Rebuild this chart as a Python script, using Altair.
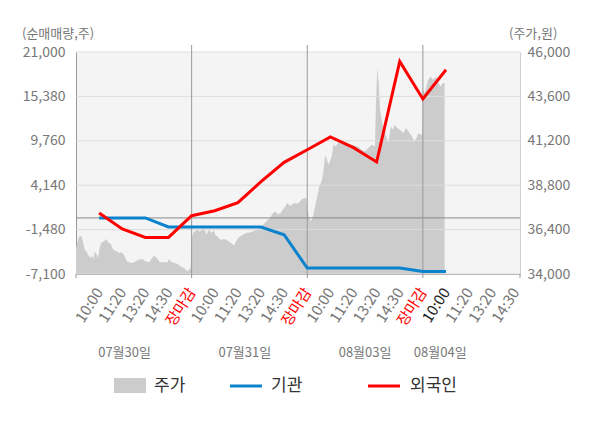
import altair as alt
import pandas as pd

# ---------------- data ----------------
slot_labels = ["10:00", "11:20", "13:20", "14:30", "장마감",
               "10:00", "11:20", "13:20", "14:30", "장마감",
               "10:00", "11:20", "13:20", "14:30", "장마감",
               "10:00", "11:20", "13:20", "14:30"]
dates = ["07월30일", "07월31일", "08월03일", "08월04일"]
date_pos = [2.1, 7.3, 12.5, 15.75]
day_bounds = [5, 10, 15]
axis_ends = [0, 5, 10, 15, 19.2]

left_ticks = [-7100, -1480, 4140, 9760, 15380, 21000]
right_ticks = [34000, 36400, 38800, 41200, 43600, 46000]

line_slots = list(range(1, 17))
foreign = [620, -1400, -2470, -2470, 280, 910, 1930, 4580, 7030, 8630,
           10240, 8890, 7080, 19810, 15050, 18760]
inst = [0, 0, 0, -1150, -1150, -1150, -1150, -1150, -2130, -6340,
        -6340, -6340, -6340, -6340, -6770, -6770]

price_t = [
    0.00, 0.09, 0.17, 0.23, 0.30, 0.38, 0.46, 0.52, 0.58, 0.66, 0.70, 0.75, 0.81, 0.90, 0.95,
    1.02, 1.09, 1.21, 1.31, 1.38, 1.50, 1.61, 1.72, 1.86, 1.96, 2.08, 2.18, 2.29, 2.43, 2.58,
    2.72, 2.87, 3.01, 3.16, 3.26, 3.37, 3.49, 3.63, 3.81, 3.95, 4.02, 4.10, 4.24, 4.38, 4.53,
    4.67, 4.81, 4.89, 4.96,
    5.00, 5.06, 5.13, 5.25, 5.35, 5.45, 5.57, 5.63, 5.71, 5.78, 5.85, 5.97, 6.02, 6.11, 6.21,
    6.28, 6.40, 6.50, 6.60, 6.72, 6.82, 6.89, 6.98, 7.08, 7.22, 7.36, 7.51, 7.65, 7.80, 7.94,
    8.09, 8.23, 8.38, 8.52, 8.62, 8.74, 8.85, 8.95, 9.05, 9.14, 9.24, 9.34, 9.46, 9.57, 9.68,
    9.78, 9.90, 9.96,
    10.00, 10.09, 10.16, 10.24, 10.34, 10.43, 10.52, 10.62, 10.69, 10.77, 10.84, 10.91, 10.98,
    11.06, 11.13, 11.24, 11.34, 11.49, 11.63, 11.78, 11.92, 12.06, 12.21, 12.35, 12.50, 12.64,
    12.79, 12.93, 12.97, 13.03, 13.09, 13.15, 13.22, 13.29, 13.41, 13.51, 13.61, 13.70, 13.79,
    13.89, 14.01, 14.15, 14.27, 14.37, 14.52, 14.62, 14.73, 14.80, 14.91, 14.97,
    15.00, 15.09, 15.23, 15.34, 15.45, 15.57, 15.67, 15.77, 15.86, 15.94,
]
price = [
    35400, 35850, 36070, 36030, 35760, 35310, 35220, 35040, 34950, 34860, 35040, 34770, 35220, 35040, 34860,
    35410, 35680, 35760, 35890, 35710, 35640, 35310, 35260, 35140, 35170, 35040, 34720, 34630, 34600, 34680,
    34770, 34810, 34680, 34630, 34810, 34990, 34860, 34630, 34630, 34630, 34810, 34680, 34600, 34560, 34410,
    34320, 34140, 34230, 34320,
    35890, 36220, 36300, 36390, 36300, 36390, 36390, 36120, 36300, 36390, 36220, 36360, 36120, 36030, 35890,
    35850, 35890, 35850, 35760, 35680, 35530, 35680, 35890, 36030, 36120, 36220, 36250, 36300, 36390, 36490,
    36660, 36840, 37030, 37300, 37380, 37210, 37300, 37480, 37650, 37840, 37690, 37750, 37840, 37800, 37920,
    38050, 38110, 38110,
    37480, 37030, 36840, 37110, 37650, 38190, 38730, 39010, 39460, 40390, 40270, 39910, 40090,
    40360, 40990, 40900, 41110, 41040, 41040, 40900, 40990, 40930, 40860, 40720, 40630, 40810,
    40990, 40900, 43240, 45130, 44320, 42880, 42340, 41800, 41440, 41080, 41980, 41800, 42070,
    41890, 41800, 41620, 41890, 41710, 41440, 41170, 41350, 41620, 41530, 41530,
    43960, 43780, 44500, 44680, 44500, 44680, 44320, 44140, 44320, 44320,
]
series_names = ["주가", "기관", "외국인"]

# ---------------- styling ----------------
FONT = "Noto Sans CJK KR"
W, H = 444, 222
GRAY_AREA = "#cccccc"
BLUE = "#0a82cd"
RED = "#ff0000"

price_df = pd.DataFrame({"t": price_t, "price": price})
line_df = pd.DataFrame({"t": line_slots, "foreign": foreign, "inst": inst})
grid_df = pd.DataFrame({"v": left_ticks})
bound_df = pd.DataFrame({"t": day_bounds})
ends_df = pd.DataFrame({"t": axis_ends})
date_df = pd.DataFrame({"t": date_pos, "label": dates})

label_arr = "[''," + ",".join("'" + s + "'" for s in slot_labels) + "]"

x_scale = alt.Scale(domain=[0, 19.2], nice=False, zero=False)
yl_scale = alt.Scale(domain=[left_ticks[0], left_ticks[-1]], nice=False, zero=False)
yr_scale = alt.Scale(domain=[right_ticks[0], right_ticks[-1]], nice=False, zero=False)

x_axis = alt.Axis(
    values=list(range(1, len(slot_labels) + 1)),
    labelExpr=label_arr + "[datum.value]",
    labelAngle=-57, labelAlign="right", labelBaseline="middle",
    labelPadding=15, labelOffset=0, labelFontSize=15,
    labelColor={"expr": "datum.value % 5 == 0 ? '#ff0000' : (datum.value == 16 ? '#222222' : '#777777')"},
    labelOverlap=False, labelBound=False, labelFlush=False,
    ticks=False, grid=False, domainColor="#999999", title=None,
)


def X(field):
    return alt.X(field, type="quantitative", scale=x_scale, axis=x_axis)


def YL(field, axis=None):
    return alt.Y(field, type="quantitative", scale=yl_scale, axis=axis)


left_axis = alt.Axis(
    values=left_ticks, labelExpr="replace(format(datum.value, ','), '−', '-')",
    labelFontSize=14, labelColor="#777777", labelPadding=11, ticks=False,
    grid=False, domainColor="#999999", title=None,
)
right_axis = alt.Axis(
    orient="right", values=right_ticks, labelExpr="format(datum.value, ',')",
    labelFontSize=14, labelColor="#777777", labelPadding=7, ticks=False,
    grid=False, domainColor="#d0d0d0", title=None,
)

area = alt.Chart(price_df).mark_area(color=GRAY_AREA, opacity=1).encode(
    x=X("t"),
    y=alt.Y("price", type="quantitative", scale=yr_scale, axis=right_axis),
    y2=alt.Y2Datum(right_ticks[0]),
)

grid = alt.Chart(grid_df).mark_rule(color="#dddddd", strokeWidth=1).encode(
    y=YL("v", left_axis),
)

zero = alt.Chart(pd.DataFrame({"v": [0]})).mark_rule(color="#8a8a8a", strokeWidth=1).encode(
    y=YL("v"),
)

seps = alt.Chart(bound_df).mark_rule(color="#999999", strokeWidth=1).encode(
    x=X("t"), y=alt.value(-7), y2=alt.value(H),
)

ticks = alt.Chart(ends_df).mark_rule(color="#999999", strokeWidth=1).encode(
    x=X("t"), y=alt.value(H), y2=alt.value(H + 4),
)

blue = alt.Chart(line_df).mark_line(color=BLUE, strokeWidth=3).encode(
    x=X("t"), y=YL("inst"),
)
red = alt.Chart(line_df).mark_line(color=RED, strokeWidth=3).encode(
    x=X("t"), y=YL("foreign"),
)

date_text = alt.Chart(date_df).mark_text(
    font=FONT, fontSize=13, color="#777777", align="center", baseline="middle"
).encode(x=X("t"), y=alt.value(301), text="label:N")

left_title = alt.Chart(pd.DataFrame({"s": ["(순매매량,주)"]})).mark_text(
    font=FONT, fontSize=13, color="#777777", align="left", baseline="middle"
).encode(x=alt.value(-54), y=alt.value(-18), text="s:N")
right_title = alt.Chart(pd.DataFrame({"s": ["(주가,원)"]})).mark_text(
    font=FONT, fontSize=13, color="#777777", align="left", baseline="middle"
).encode(x=alt.value(433), y=alt.value(-18), text="s:N")

leg_rect = alt.Chart(pd.DataFrame({"s": [series_names[0]]})).mark_rect(color=GRAY_AREA).encode(
    x=alt.value(38), x2=alt.value(70), y=alt.value(326), y2=alt.value(341),
)
leg_blue = alt.Chart(pd.DataFrame({"s": [series_names[1]]})).mark_rule(color=BLUE, strokeWidth=3).encode(
    x=alt.value(154), x2=alt.value(186), y=alt.value(334),
)
leg_red = alt.Chart(pd.DataFrame({"s": [series_names[2]]})).mark_rule(color=RED, strokeWidth=3).encode(
    x=alt.value(292), x2=alt.value(324), y=alt.value(334),
)


def leg_text(name, px):
    return alt.Chart(pd.DataFrame({"s": [name]})).mark_text(
        font=FONT, fontSize=17, color="#333333", align="left", baseline="middle"
    ).encode(x=alt.value(px), y=alt.value(334), text="s:N")


chart = alt.layer(
    area, grid, zero, seps, ticks, blue, red, date_text,
    left_title, right_title, leg_rect, leg_blue, leg_red,
    leg_text(series_names[0], 78), leg_text(series_names[1], 195), leg_text(series_names[2], 334),
).resolve_scale(y="independent").properties(
    width=W, height=H,
    padding={"left": 68, "top": 44, "right": 60, "bottom": 130},
    autosize=alt.AutoSizeParams(type="none"),
).configure_view(
    fill="#f4f4f4", stroke=None,
).configure_axis(
    labelFont=FONT,
).configure_text(font=FONT)

chart.save("out.html", embed_options={"renderer": "svg", "actions": False})
